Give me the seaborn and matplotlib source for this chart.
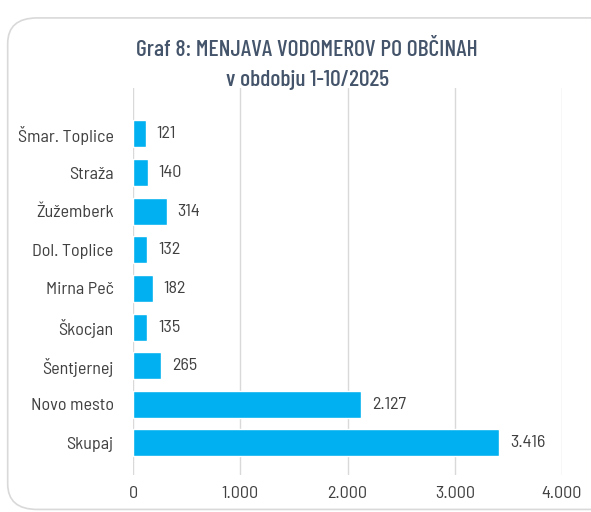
import matplotlib
matplotlib.use("Agg")
import matplotlib.pyplot as plt
import seaborn as sns
import pandas as pd
from matplotlib.patches import FancyBboxPatch
from matplotlib.ticker import FuncFormatter

categories = ["Šmar. Toplice", "Straža", "Žužemberk", "Dol. Toplice", "Mirna Peč",
              "Škocjan", "Šentjernej", "Novo mesto", "Skupaj"]
values = [121, 140, 314, 132, 182, 135, 265, 2127, 3416]
value_labels = ["121", "140", "314", "132", "182", "135", "265", "2.127", "3.416"]
tick_values = [0, 1000, 2000, 3000, 4000]
title_line1 = "Graf 8: MENJAVA VODOMEROV PO OBČINAH"
title_line2 = "v obdobju 1-10/2025"

sns.set_theme(style="white")
plt.rcParams['font.family'] = ['Barlow Semi Condensed', 'DejaVu Sans']

df = pd.DataFrame({"cat": categories, "val": values})

fig = plt.figure(figsize=(5.91, 5.12), dpi=100)
frame = FancyBboxPatch((0.013, 0.005), 1.2, 0.96, boxstyle="round,pad=0,rounding_size=0.05",
                       transform=fig.transFigure, facecolor="white", edgecolor="#d9d9d9",
                       linewidth=1.2, zorder=-10)
fig.patches.append(frame)

ax = fig.add_axes([133/591, 1 - 475/512, (562-133)/591, (475-88)/512])
ax.set_zorder(5)
ax.patch.set_alpha(0)
sns.barplot(data=df, x="val", y="cat", orient="h", color="#00B0F0", saturation=1,
            width=0.70, ax=ax, zorder=3)
ax.set_xlim(0, 4000)
ax.set_ylim(8.83, -1.19)
ax.set_xticks(tick_values)
ax.xaxis.set_major_formatter(FuncFormatter(lambda v, p: f"{int(v):,}".replace(",", ".")))
ax.grid(axis="x", color="#d9d9d9", linewidth=1, zorder=0)
ax.set_axisbelow(True)
ax.set_xlabel("")
ax.set_ylabel("")
for s in ax.spines.values():
    s.set_visible(False)
ax.tick_params(axis="x", labelsize=13, colors="#404040", pad=8, length=0)
ax.tick_params(axis="y", labelsize=13, colors="#404040", pad=14, length=0)
for i, (v, lab) in enumerate(zip(values, value_labels)):
    ax.text(v + 100, i, lab, va="center", ha="left", fontsize=13, color="#404040")

fig.text(0.52, 1 - 50/512, title_line1, ha="center", va="center", fontsize=17,
         fontweight="medium", color="#44546A", family=['Barlow Condensed', 'DejaVu Sans'])
fig.text(0.52, 1 - 80/512, title_line2, ha="center", va="center", fontsize=17,
         fontweight="medium", color="#44546A", family=['Barlow Condensed', 'DejaVu Sans'])

fig.savefig("out.png", dpi=100)
